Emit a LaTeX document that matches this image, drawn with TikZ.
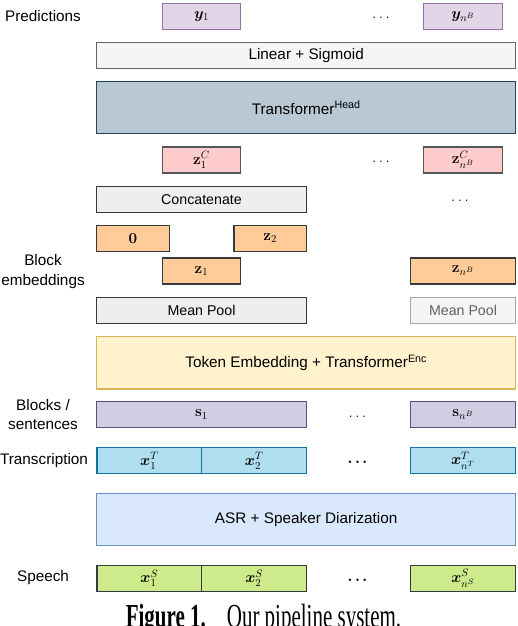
\documentclass[tikz,border=0pt]{standalone}
\usepackage{fix-cm}
\usepackage{amsmath,bm}
\usepackage[no-math]{fontspec}
\setmainfont{Liberation Sans}
\newfontfamily\capfont{Liberation Serif}
\usetikzlibrary{math}

\definecolor{predfill}{HTML}{E1D5E7}
\definecolor{predline}{HTML}{9673A6}
\definecolor{linfill}{HTML}{F5F5F5}
\definecolor{linline}{HTML}{666666}
\definecolor{headfill}{HTML}{BAC8D3}
\definecolor{headline}{HTML}{23445D}
\definecolor{catfill}{HTML}{FFCCCC}
\definecolor{darkline}{HTML}{36393D}
\definecolor{greyfill}{HTML}{EEEEEE}
\definecolor{embfill}{HTML}{FFCC99}
\definecolor{encfill}{HTML}{FFF2CC}
\definecolor{encline}{HTML}{D6B656}
\definecolor{sentfill}{HTML}{D0CEE2}
\definecolor{sentline}{HTML}{56517E}
\definecolor{trfill}{HTML}{B1DDF0}
\definecolor{trline}{HTML}{10739E}
\definecolor{asrfill}{HTML}{DAE8FC}
\definecolor{asrline}{HTML}{6C8EBF}
\definecolor{spfill}{HTML}{CDEB8B}

\newcommand{\thindots}{$\ldots$}
\newcommand{\bolddots}{$\bm{.}\mskip\thinmuskip\bm{.}\mskip\thinmuskip\bm{.}$}

\tikzset{
  blk/.style={draw, line width=1.3pt, inner sep=0pt, minimum height=26pt,
    font=\fontsize{15.3}{18}\selectfont},
  tall/.style={minimum height=52.5pt},
  small/.style={font=\fontsize{14.2}{17}\selectfont},
  predbox/.style={blk, fill=predfill, draw=predline},
  linbox/.style={blk, fill=linfill, draw=linline},
  headbox/.style={blk, tall, fill=headfill, draw=headline},
  catbox/.style={blk, fill=catfill, draw=darkline!85},
  greybox/.style={blk, small, fill=greyfill, draw=darkline},
  embbox/.style={blk, fill=embfill, draw=darkline},
  encbox/.style={blk, tall, fill=encfill, draw=encline},
  sentbox/.style={blk, fill=sentfill, draw=sentline},
  trbox/.style={blk, fill=trfill, draw=trline},
  asrbox/.style={blk, tall, fill=asrfill, draw=asrline},
  spbox/.style={blk, fill=spfill, draw=darkline},
  rowlabel/.style={align=center, font=\fontsize{15.3}{19.3}\selectfont},
  dotrow/.style={inner sep=0pt, font=\fontsize{15.3}{18}\selectfont}
}

\begin{document}
\begin{tikzpicture}[x=1pt, y=-1pt]
\tikzmath{
\cL=201.5;
\cR=463;
\cM=306.2;
\wW=419;
\wA=209.6;
\wB=78.5;
\wR=105.4;
\wS=104.7;
}
\useasboundingbox (0,0) rectangle (518,626);

 %predictions
 \node[predbox, minimum width=\wB pt] (y1) at (\cL,16.3) {$\bm{y}_1$};
 \node[predbox, minimum width=\wB pt] (ynB) at (\cR,16.3) {$\bm{y}_{n^B}$};
 \node[dotrow] (ydots) at (381,18) {\thindots};

 %head
 \node[linbox, minimum width=\wW pt] (lin) at (\cM,55.3) {Linear + Sigmoid};
 \node[headbox, minimum width=\wW pt] (head) at (\cM,107.5) {Transformer\textsuperscript{Head}};

 %concatenated embeddings
 \node[catbox, minimum width=\wB pt] (zc1) at (\cL,160) {$\mathbf{z}^C_1$};
 \node[catbox, minimum width=\wB pt] (zcnB) at (\cR,160) {$\mathbf{z}^C_{n^B}$};
 \node[dotrow] (zcdots) at (381,162) {\thindots};
 \node[greybox, minimum width=\wA pt] (cat) at (\cL,199.2) {Concatenate};
 \node[dotrow] (catdots) at (460,201) {\thindots};

 %block embeddings
 \node[embbox, minimum width=72.6pt] (z0) at (133,238.3) {$\mathbf{0}$};
 \node[embbox, minimum width=72.3pt] (z2) at (270.2,238.3) {$\mathbf{z}_2$};
 \node[embbox, minimum width=\wB pt] (z1) at (\cL,271) {$\mathbf{z}_1$};
 \node[embbox, minimum width=\wR pt] (znB) at (\cR,271) {$\mathbf{z}_{n^B}$};
 \node[greybox, minimum width=\wA pt] (pool1) at (\cL,310.2) {Mean Pool};
 \node[greybox, minimum width=\wR pt, fill=linfill, draw=darkline!45, text=darkline!80] (pool2) at (\cR,310.2) {Mean Pool};

 %encoder
 \node[encbox, minimum width=\wW pt] (enc) at (\cM,362.8) {Token Embedding + Transformer\textsuperscript{Enc}};

 %blocks
 \node[sentbox, minimum width=\wA pt] (s1) at (\cL,414.7) {$\mathbf{s}_1$};
 \node[sentbox, minimum width=\wR pt] (snB) at (\cR,414.7) {$\mathbf{s}_{n^B}$};
 \node[dotrow] (sdots) at (357.5,417) {\thindots};

 %transcription
 \node[trbox, minimum width=\wS pt] (xt1) at (149.35,460.7) {$\bm{x}^T_1$};
 \node[trbox, minimum width=\wS pt] (xt2) at (254.15,460.7) {$\bm{x}^T_2$};
 \node[trbox, minimum width=\wR pt] (xtn) at (\cR,460.7) {$\bm{x}^T_{n^T}$};
 \node[dotrow] (tdots) at (357.5,462.5) {\bolddots};

 \node[asrbox, minimum width=\wW pt] (asr) at (\cM,519.5) {ASR + Speaker Diarization};

 %speech
 \node[spbox, minimum width=\wS pt] (xs1) at (149.35,578.3) {$\bm{x}^S_1$};
 \node[spbox, minimum width=\wS pt] (xs2) at (254.15,578.3) {$\bm{x}^S_2$};
 \node[spbox, minimum width=\wR pt] (xsn) at (\cR,578.3) {$\bm{x}^S_{n^S}$};
 \node[dotrow] (sdots2) at (357.5,580) {\bolddots};

 %row labels
 \node[rowlabel] (lpred) at (43,15.7) {Predictions};
 \node[rowlabel] (lemb) at (43,271.5) {Block\\embeddings};
 \node[rowlabel] (lblk) at (43,414.7) {Blocks /\\sentences};
 \node[rowlabel] (ltr) at (44,460.5) {Transcription};
 \node[rowlabel] (lsp) at (43,577.7) {Speech};

 %caption
 \node[anchor=base, inner sep=0pt, font=\capfont\fontsize{21}{24}\selectfont] (cap) at (263.5,627.5)
   {\scalebox{1}[1.6]{\textbf{Figure 1.}\quad Our pipeline system.}};
\end{tikzpicture}
\end{document}
